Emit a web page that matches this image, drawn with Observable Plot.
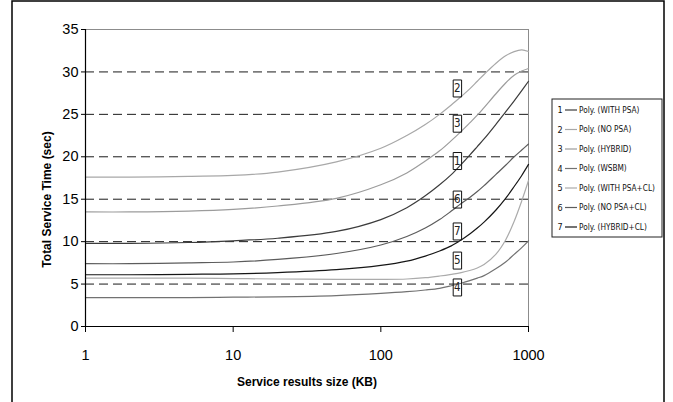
<!DOCTYPE html>
<html>
<head>
<meta charset="utf-8">
<script src="https://cdn.jsdelivr.net/npm/d3@7"></script>
<script src="https://cdn.jsdelivr.net/npm/@observablehq/plot@0.6"></script>
<style>
  html, body { margin: 0; padding: 0; background: #fff; overflow: hidden; }
  #chart { position: relative; width: 673px; height: 402px; }
  g[aria-label="ytitle"] text { letter-spacing: 0.5px; }
</style>
</head>
<body>
<div id="chart"></div>
<script>
// ---- data ----
const sizes = [1, 2, 5, 10, 20, 50, 100, 150, 200, 250, 300, 350, 400, 450, 500, 600, 700, 800, 900, 1000];
const seriesNames = ["Poly. (WITH PSA)", "Poly. (NO PSA)", "Poly. (HYBRID)", "Poly. (WSBM)", "Poly. (WITH PSA+CL)", "Poly. (NO PSA+CL)", "Poly. (HYBRID+CL)"];
const seriesIds = ["1", "2", "3", "4", "5", "6", "7"];
const seriesColors = ["#3c3c3c", "#a8a8a8", "#9c9c9c", "#727272", "#ababab", "#5c5c5c", "#161616"];
const withPSA     = [9.8, 9.8, 9.9, 10.1, 10.4, 11.2, 12.6, 14.0, 15.4, 16.7, 17.9, 19.1, 20.2, 21.2, 22.1, 23.8, 25.3, 26.6, 27.8, 28.9];
const noPSA       = [17.6, 17.6, 17.7, 17.8, 18.2, 19.4, 21.0, 22.5, 23.8, 25.0, 26.1, 27.1, 28.0, 28.9, 29.7, 31.0, 31.9, 32.4, 32.6, 32.4];
const hybrid      = [13.5, 13.5, 13.6, 13.8, 14.2, 15.1, 16.7, 18.1, 19.5, 20.7, 21.9, 23.0, 24.0, 24.9, 25.8, 27.4, 28.7, 29.6, 30.1, 30.4];
const wsbm        = [3.4, 3.4, 3.4, 3.45, 3.5, 3.65, 3.9, 4.1, 4.3, 4.5, 4.8, 5.1, 5.4, 5.7, 6.0, 6.8, 7.6, 8.5, 9.3, 10.1];
const withPSACL   = [5.7, 5.7, 5.7, 5.65, 5.6, 5.55, 5.55, 5.6, 5.75, 5.95, 6.15, 6.35, 6.6, 6.9, 7.3, 8.5, 10.2, 12.4, 14.8, 17.2];
const noPSACL     = [7.4, 7.4, 7.5, 7.6, 7.9, 8.6, 9.6, 10.6, 11.6, 12.6, 13.6, 14.5, 15.2, 15.9, 16.6, 17.9, 19.0, 20.0, 20.8, 21.5];
const hybridCL    = [6.1, 6.1, 6.15, 6.2, 6.35, 6.7, 7.2, 7.7, 8.3, 8.9, 9.5, 10.2, 10.9, 11.6, 12.3, 13.7, 15.1, 16.5, 17.8, 19.1];
const seriesValues = [withPSA, noPSA, hybrid, wsbm, withPSACL, noPSACL, hybridCL];

// numbered boxes on the curves
const boxIds = ["2", "3", "1", "6", "7", "5", "4"];
const boxX   = [330, 330, 330, 330, 330, 330, 330];
const boxY   = [28.05, 23.9, 19.5, 14.96, 11.2, 7.77, 4.6];

const xTicks = [1, 10, 100, 1000];
const yTicks = [0, 5, 10, 15, 20, 25, 30, 35];
const gridY  = [5, 10, 15, 20, 25, 30];
const xTitle = "Service results size (KB)";
const yTitle = "Total Service Time (sec)";

// ---- build ----
const rows = [];
seriesValues.forEach((vals, i) => vals.forEach((v, j) => rows.push({series: seriesIds[i], x: sizes[j], y: v})));
const boxes = boxIds.map((id, i) => ({id, x: boxX[i], y: boxY[i]}));
const narrow = "'Liberation Sans Narrow', 'DejaVu Sans Condensed', 'Liberation Sans', Arial, sans-serif";
const rectSymbol = { draw(ctx, size) { ctx.rect(-4.2, -8.5, 8.4, 17); } };

const chart = Plot.plot({
  width: 673,
  height: 402,
  marginLeft: 85,
  marginRight: 145,
  marginTop: 29,
  marginBottom: 76,
  style: {fontFamily: "'Liberation Sans', Arial, sans-serif", fontSize: "14px", background: "white", color: "black"},
  x: {type: "log", domain: [1, 1000]},
  y: {domain: [0, 35]},
  color: {domain: seriesIds, range: seriesColors},
  marks: [
    Plot.ruleY(gridY, {stroke: "#1a1a1a", strokeWidth: 1, strokeDasharray: "9,5"}),
    Plot.ruleY([35], {stroke: "#8c8c8c", strokeWidth: 1}),
    Plot.ruleX([1000], {stroke: "#8c8c8c", strokeWidth: 1}),
    Plot.line(rows, {x: "x", y: "y", z: "series", stroke: "series", strokeWidth: 1.2, curve: "catmull-rom"}),
    Plot.dot(boxes, {x: "x", y: "y", symbol: rectSymbol, r: 5, stroke: "#111", strokeWidth: 1, fill: "none"}),
    Plot.text(boxes, {x: "x", y: "y", text: "id", fontSize: 11.5, fontFamily: narrow, fill: "#222"}),
    Plot.ruleX([1], {stroke: "black", strokeWidth: 1.2}),
    Plot.ruleY([0], {stroke: "black", strokeWidth: 1.2}),
    Plot.axisY({ticks: yTicks, tickSize: 4, tickPadding: 3, fontSize: 14.5, label: null, stroke: "black"}),
    Plot.axisX({ticks: xTicks, tickSize: 6, tickPadding: 17, fontSize: 14.5, label: null, tickFormat: d => String(d), stroke: "black"}),
    Plot.text([xTitle], {frameAnchor: "bottom", dy: 59, fontWeight: "bold", fontSize: 12}),
    Plot.text([yTitle], {frameAnchor: "left", textAnchor: "middle", dx: -38, dy: 21.5, rotate: -90, fontWeight: "bold", fontSize: 12, ariaLabel: "ytitle"})
  ]
});
document.getElementById("chart").appendChild(chart);

// ---- legend & outer frame ----
const svg = d3.select(chart);
const lg = svg.append("g").attr("class", "legend");
lg.append("rect").attr("x", 552).attr("y", 99).attr("width", 110).attr("height", 138)
  .attr("fill", "white").attr("stroke", "#222").attr("stroke-width", 1);
seriesNames.forEach((name, i) => {
  const yy = 110 + i * 19.5;
  lg.append("text").attr("x", 560).attr("y", yy).attr("dy", "0.35em").attr("text-anchor", "middle")
    .attr("font-size", 9).attr("font-family", narrow).attr("fill", "#111").text(seriesIds[i]);
  lg.append("line").attr("x1", 565).attr("x2", 577).attr("y1", yy).attr("y2", yy)
    .attr("stroke", seriesColors[i]).attr("stroke-width", 1.2);
  lg.append("text").attr("x", 579).attr("y", yy).attr("dy", "0.35em").attr("text-anchor", "start")
    .attr("font-size", 8.2).attr("font-family", narrow).attr("fill", "#111").text(name);
});
svg.append("rect").attr("x", 12).attr("y", 1).attr("width", 652).attr("height", 430)
  .attr("fill", "none").attr("stroke", "black").attr("stroke-width", 1.5);
</script>
</body>
</html>
